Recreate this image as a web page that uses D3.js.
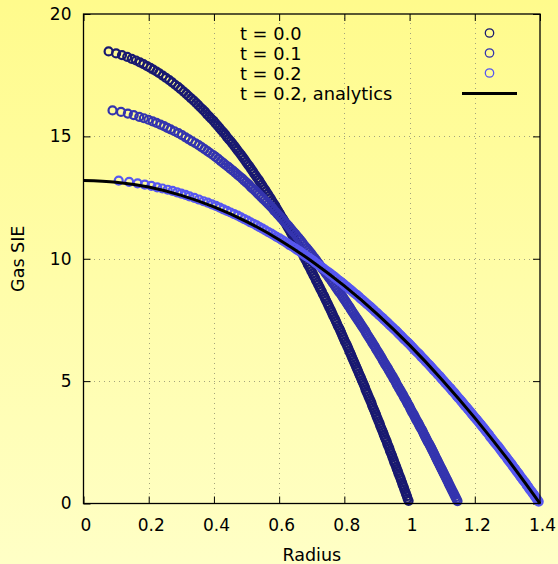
<!DOCTYPE html>
<html>
<head>
<meta charset="utf-8">
<script src="https://cdn.jsdelivr.net/npm/d3@7"></script>
<style>
  html, body { margin: 0; padding: 0; }
  body { width: 558px; height: 564px; overflow: hidden; }
  text { font-family: "DejaVu Sans", sans-serif; fill: #000; }
</style>
</head>
<body>
<script>
'use strict';

// radius / specific internal energy of each shell
const radiusT0 = [0.077,0.100,0.118,0.134,0.148,0.161,0.173,0.184,0.195,0.205,0.214,0.224,
  0.232,0.243,0.253,0.263,0.272,0.281,0.290,0.298,0.307,0.315,
  0.322,0.330,0.338,0.345,0.352,0.359,0.366,0.373,0.379,0.386,
  0.392,0.399,0.405,0.411,0.417,0.423,0.429,0.435,0.440,0.446,
  0.452,0.457,0.463,0.468,0.473,0.479,0.484,0.489,0.494,0.499,
  0.504,0.509,0.514,0.519,0.523,0.528,0.533,0.538,0.542,0.547,
  0.551,0.556,0.560,0.565,0.569,0.574,0.578,0.582,0.587,0.591,
  0.595,0.599,0.603,0.607,0.612,0.616,0.620,0.624,0.628,0.632,
  0.636,0.640,0.643,0.647,0.651,0.655,0.659,0.663,0.666,0.670,
  0.674,0.678,0.681,0.685,0.688,0.692,0.696,0.699,0.703,0.706,
  0.710,0.713,0.717,0.720,0.724,0.727,0.731,0.734,0.738,0.741,
  0.744,0.748,0.751,0.754,0.758,0.761,0.764,0.767,0.771,0.774,
  0.777,0.780,0.784,0.787,0.790,0.793,0.796,0.799,0.802,0.806,
  0.809,0.812,0.815,0.818,0.821,0.824,0.827,0.830,0.833,0.836,
  0.839,0.842,0.845,0.848,0.851,0.854,0.857,0.860,0.863,0.865,
  0.868,0.871,0.874,0.877,0.880,0.883,0.885,0.888,0.891,0.894,
  0.897,0.899,0.902,0.905,0.908,0.910,0.913,0.916,0.919,0.921,
  0.924,0.927,0.930,0.932,0.935,0.938,0.940,0.943,0.946,0.948,
  0.951,0.953,0.956,0.959,0.961,0.964,0.966,0.969,0.972,0.974,
  0.977,0.979,0.982,0.984,0.987,0.989,0.992,0.994,0.997];
const sieT0 = [18.47,18.39,18.32,18.25,18.17,18.10,18.02,17.95,17.87,17.80,17.73,17.65,
  17.58,17.48,17.39,17.30,17.21,17.11,17.02,16.93,16.83,16.74,
  16.65,16.55,16.46,16.37,16.28,16.18,16.09,16.00,15.90,15.81,
  15.72,15.63,15.53,15.44,15.35,15.25,15.16,15.07,14.97,14.88,
  14.79,14.70,14.60,14.51,14.42,14.32,14.23,14.14,14.05,13.95,
  13.86,13.77,13.67,13.58,13.49,13.40,13.30,13.21,13.12,13.02,
  12.93,12.84,12.75,12.65,12.56,12.47,12.37,12.28,12.19,12.09,
  12.00,11.91,11.82,11.72,11.63,11.54,11.44,11.35,11.26,11.17,
  11.07,10.98,10.89,10.79,10.70,10.61,10.52,10.42,10.33,10.24,
  10.14,10.05,9.96,9.87,9.77,9.68,9.59,9.49,9.40,9.31,
  9.22,9.12,9.03,8.94,8.84,8.75,8.66,8.56,8.47,8.38,
  8.29,8.19,8.10,8.01,7.91,7.82,7.73,7.64,7.54,7.45,
  7.36,7.26,7.17,7.08,6.99,6.89,6.80,6.71,6.61,6.52,
  6.43,6.34,6.24,6.15,6.06,5.96,5.87,5.78,5.69,5.59,
  5.50,5.41,5.31,5.22,5.13,5.03,4.94,4.85,4.76,4.66,
  4.57,4.48,4.38,4.29,4.20,4.11,4.01,3.92,3.83,3.73,
  3.64,3.55,3.46,3.36,3.27,3.18,3.08,2.99,2.90,2.81,
  2.71,2.62,2.53,2.43,2.34,2.25,2.15,2.06,1.97,1.88,
  1.78,1.69,1.60,1.50,1.41,1.32,1.23,1.13,1.04,0.95,
  0.85,0.76,0.67,0.58,0.48,0.39,0.30,0.20,0.11];

const radiusT1 = [0.089,0.115,0.136,0.154,0.171,0.185,0.199,0.212,0.224,0.236,0.247,0.257,
  0.267,0.279,0.291,0.302,0.313,0.323,0.333,0.343,0.353,0.362,
  0.371,0.380,0.388,0.397,0.405,0.413,0.421,0.429,0.436,0.444,
  0.451,0.459,0.466,0.473,0.480,0.487,0.493,0.500,0.507,0.513,
  0.519,0.526,0.532,0.538,0.544,0.550,0.556,0.562,0.568,0.574,
  0.580,0.585,0.591,0.596,0.602,0.607,0.613,0.618,0.624,0.629,
  0.634,0.639,0.644,0.650,0.655,0.660,0.665,0.670,0.674,0.679,
  0.684,0.689,0.694,0.699,0.703,0.708,0.713,0.717,0.722,0.726,
  0.731,0.735,0.740,0.744,0.749,0.753,0.758,0.762,0.766,0.771,
  0.775,0.779,0.783,0.788,0.792,0.796,0.800,0.804,0.808,0.812,
  0.816,0.820,0.824,0.828,0.832,0.836,0.840,0.844,0.848,0.852,
  0.856,0.860,0.864,0.867,0.871,0.875,0.879,0.883,0.886,0.890,
  0.894,0.897,0.901,0.905,0.908,0.912,0.916,0.919,0.923,0.926,
  0.930,0.934,0.937,0.941,0.944,0.948,0.951,0.955,0.958,0.961,
  0.965,0.968,0.972,0.975,0.979,0.982,0.985,0.989,0.992,0.995,
  0.999,1.002,1.005,1.008,1.012,1.015,1.018,1.021,1.025,1.028,
  1.031,1.034,1.038,1.041,1.044,1.047,1.050,1.053,1.056,1.060,
  1.063,1.066,1.069,1.072,1.075,1.078,1.081,1.084,1.087,1.090,
  1.093,1.096,1.099,1.102,1.105,1.108,1.111,1.114,1.117,1.120,
  1.123,1.126,1.129,1.132,1.135,1.138,1.141,1.144,1.147];
const sieT1 = [16.06,16.00,15.93,15.87,15.80,15.74,15.68,15.61,15.55,15.48,15.42,15.35,
  15.29,15.21,15.13,15.05,14.96,14.88,14.80,14.72,14.64,14.56,
  14.48,14.40,14.32,14.24,14.16,14.08,13.99,13.91,13.83,13.75,
  13.67,13.59,13.51,13.43,13.35,13.27,13.19,13.11,13.03,12.94,
  12.86,12.78,12.70,12.62,12.54,12.46,12.38,12.30,12.22,12.14,
  12.06,11.97,11.89,11.81,11.73,11.65,11.57,11.49,11.41,11.33,
  11.25,11.17,11.09,11.01,10.92,10.84,10.76,10.68,10.60,10.52,
  10.44,10.36,10.28,10.20,10.12,10.04,9.95,9.87,9.79,9.71,
  9.63,9.55,9.47,9.39,9.31,9.23,9.15,9.07,8.99,8.90,
  8.82,8.74,8.66,8.58,8.50,8.42,8.34,8.26,8.18,8.10,
  8.02,7.93,7.85,7.77,7.69,7.61,7.53,7.45,7.37,7.29,
  7.21,7.13,7.05,6.97,6.88,6.80,6.72,6.64,6.56,6.48,
  6.40,6.32,6.24,6.16,6.08,6.00,5.91,5.83,5.75,5.67,
  5.59,5.51,5.43,5.35,5.27,5.19,5.11,5.03,4.95,4.86,
  4.78,4.70,4.62,4.54,4.46,4.38,4.30,4.22,4.14,4.06,
  3.98,3.89,3.81,3.73,3.65,3.57,3.49,3.41,3.33,3.25,
  3.17,3.09,3.01,2.93,2.84,2.76,2.68,2.60,2.52,2.44,
  2.36,2.28,2.20,2.12,2.04,1.96,1.87,1.79,1.71,1.63,
  1.55,1.47,1.39,1.31,1.23,1.15,1.07,0.99,0.91,0.82,
  0.74,0.66,0.58,0.50,0.42,0.34,0.26,0.18,0.10];

const radiusT2 = [0.108,0.140,0.166,0.188,0.208,0.226,0.242,0.258,0.273,0.287,0.300,0.313,
  0.325,0.340,0.354,0.368,0.381,0.394,0.406,0.418,0.429,0.440,
  0.451,0.462,0.473,0.483,0.493,0.503,0.512,0.522,0.531,0.540,
  0.549,0.558,0.567,0.576,0.584,0.592,0.601,0.609,0.617,0.625,
  0.632,0.640,0.648,0.655,0.663,0.670,0.677,0.684,0.692,0.699,
  0.706,0.712,0.719,0.726,0.733,0.739,0.746,0.753,0.759,0.766,
  0.772,0.778,0.785,0.791,0.797,0.803,0.809,0.815,0.821,0.827,
  0.833,0.839,0.845,0.850,0.856,0.862,0.868,0.873,0.879,0.884,
  0.890,0.895,0.901,0.906,0.912,0.917,0.922,0.928,0.933,0.938,
  0.943,0.949,0.954,0.959,0.964,0.969,0.974,0.979,0.984,0.989,
  0.994,0.999,1.004,1.009,1.013,1.018,1.023,1.028,1.033,1.037,
  1.042,1.047,1.051,1.056,1.061,1.065,1.070,1.074,1.079,1.084,
  1.088,1.093,1.097,1.101,1.106,1.110,1.115,1.119,1.124,1.128,
  1.132,1.137,1.141,1.145,1.149,1.154,1.158,1.162,1.166,1.170,
  1.175,1.179,1.183,1.187,1.191,1.195,1.199,1.204,1.208,1.212,
  1.216,1.220,1.224,1.228,1.232,1.236,1.240,1.244,1.247,1.251,
  1.255,1.259,1.263,1.267,1.271,1.275,1.279,1.282,1.286,1.290,
  1.294,1.298,1.301,1.305,1.309,1.313,1.316,1.320,1.324,1.327,
  1.331,1.335,1.338,1.342,1.346,1.349,1.353,1.357,1.360,1.364,
  1.367,1.371,1.375,1.378,1.382,1.385,1.389,1.392,1.396];
const sieT2 = [13.19,13.14,13.08,13.03,12.98,12.92,12.87,12.82,12.77,12.71,12.66,12.61,
  12.55,12.49,12.42,12.35,12.29,12.22,12.16,12.09,12.02,11.96,
  11.89,11.82,11.76,11.69,11.62,11.56,11.49,11.43,11.36,11.29,
  11.23,11.16,11.09,11.03,10.96,10.89,10.83,10.76,10.70,10.63,
  10.56,10.50,10.43,10.36,10.30,10.23,10.16,10.10,10.03,9.97,
  9.90,9.83,9.77,9.70,9.63,9.57,9.50,9.43,9.37,9.30,
  9.24,9.17,9.10,9.04,8.97,8.90,8.84,8.77,8.71,8.64,
  8.57,8.51,8.44,8.37,8.31,8.24,8.17,8.11,8.04,7.98,
  7.91,7.84,7.78,7.71,7.64,7.58,7.51,7.44,7.38,7.31,
  7.25,7.18,7.11,7.05,6.98,6.91,6.85,6.78,6.71,6.65,
  6.58,6.52,6.45,6.38,6.32,6.25,6.18,6.12,6.05,5.98,
  5.92,5.85,5.79,5.72,5.65,5.59,5.52,5.45,5.39,5.32,
  5.25,5.19,5.12,5.06,4.99,4.92,4.86,4.79,4.72,4.66,
  4.59,4.53,4.46,4.39,4.33,4.26,4.19,4.13,4.06,3.99,
  3.93,3.86,3.80,3.73,3.66,3.60,3.53,3.46,3.40,3.33,
  3.26,3.20,3.13,3.07,3.00,2.93,2.87,2.80,2.73,2.67,
  2.60,2.53,2.47,2.40,2.34,2.27,2.20,2.14,2.07,2.00,
  1.94,1.87,1.80,1.74,1.67,1.61,1.54,1.47,1.41,1.34,
  1.27,1.21,1.14,1.07,1.01,0.94,0.88,0.81,0.74,0.68,
  0.61,0.54,0.48,0.41,0.35,0.28,0.21,0.15,0.08];

const radiusAnalytic = [0,0.1,0.2,0.3,0.4,0.5,0.6,0.7,0.8,0.9,1.0,1.1,1.2,1.3,1.4];
const sieAnalytic = [13.20,13.13,12.93,12.59,12.12,11.52,10.78,9.90,8.89,7.75,6.47,5.05,3.50,1.82,0];

const xTicks = [0,0.2,0.4,0.6,0.8,1,1.2,1.4];
const yTicks = [0,5,10,15,20];
const seriesLabels = ['t = 0.0','t = 0.1','t = 0.2','t = 0.2, analytics'];
const seriesColors = ['#191970','#3434ae','#5757f0'];

(function() {

  let width = 558;
  let height = 564;
  let plotLeft = 83.5;
  let plotRight = 540;
  let plotTop = 14;
  let plotBottom = 503.5;
  let svgContainer = "";

  window.onload = function() {
    svgContainer = d3.select('body')
      .append('svg')
      .attr('width', width)
      .attr('height', height);

    drawBackground();
    let map = drawAxes();
    plotData(map);
    makeLegend();
    makeLabels();
  }

  function drawBackground() {
    let grad = svgContainer.append('defs')
      .append('linearGradient')
      .attr('id', 'bg')
      .attr('x1', 0).attr('y1', 0)
      .attr('x2', 0).attr('y2', 1);
    grad.append('stop').attr('offset', '0%').attr('stop-color', '#fffb8c');
    grad.append('stop').attr('offset', '100%').attr('stop-color', '#ffffc6');
    svgContainer.append('rect')
      .attr('width', width)
      .attr('height', height)
      .attr('fill', 'url(#bg)');
  }

  function drawAxes() {
    let xScale = d3.scaleLinear()
      .domain([0, 1.4])
      .range([plotLeft, plotRight]);
    let yScale = d3.scaleLinear()
      .domain([0, 20])
      .range([plotBottom, plotTop]);

    // dotted grid
    let grid = svgContainer.append('g')
      .attr('stroke', '#a3a37c')
      .attr('stroke-width', 1)
      .attr('stroke-dasharray', '1,4')
      .attr('shape-rendering', 'crispEdges');
    grid.selectAll('.gx')
      .data(xTicks.filter(d => d > 0 && d < 1.4))
      .enter()
      .append('line')
      .attr('x1', d => Math.round(xScale(d)) + 0.5)
      .attr('x2', d => Math.round(xScale(d)) + 0.5)
      .attr('y1', plotBottom)
      .attr('y2', plotTop);
    grid.selectAll('.gy')
      .data(yTicks.filter(d => d > 0 && d < 20))
      .enter()
      .append('line')
      .attr('y1', d => Math.round(yScale(d)) + 0.5)
      .attr('y2', d => Math.round(yScale(d)) + 0.5)
      .attr('x1', plotLeft)
      .attr('x2', plotRight);

    let fmt = d => String(d);

    let xAxis = svgContainer.append('g')
      .attr('transform', 'translate(0,' + plotBottom + ')')
      .call(d3.axisBottom(xScale).tickValues(xTicks).tickFormat(fmt)
        .tickSizeInner(-7).tickSizeOuter(0).tickPadding(15.5));
    xAxis.selectAll('text').attr('dx', 2);

    svgContainer.append('g')
      .attr('transform', 'translate(0,' + plotTop + ')')
      .call(d3.axisTop(xScale).tickValues(xTicks).tickFormat('')
        .tickSizeInner(-7).tickSizeOuter(0));

    svgContainer.append('g')
      .attr('transform', 'translate(' + plotLeft + ',0)')
      .call(d3.axisLeft(yScale).tickValues(yTicks).tickFormat(fmt)
        .tickSizeInner(-7).tickSizeOuter(0).tickPadding(12));

    svgContainer.append('g')
      .attr('transform', 'translate(' + plotRight + ',0)')
      .call(d3.axisRight(yScale).tickValues(yTicks).tickFormat('')
        .tickSizeInner(-7).tickSizeOuter(0));

    svgContainer.selectAll('.tick text')
      .style('font-family', '"DejaVu Sans", sans-serif')
      .style('font-size', '17px')
      .attr('fill', '#000');
    svgContainer.selectAll('.tick line').attr('stroke', '#000');
    svgContainer.selectAll('.domain').remove();

    return {
      xScale: xScale,
      yScale: yScale
    };
  }

  function plotData(map) {
    let xMap = map.xScale;
    let yMap = map.yScale;

    let series = [
      radiusT0.map((r, i) => ({ r: r, e: sieT0[i] })),
      radiusT1.map((r, i) => ({ r: r, e: sieT1[i] })),
      radiusT2.map((r, i) => ({ r: r, e: sieT2[i] }))
    ];

    series.forEach(function(pts, s) {
      svgContainer.append('g')
        .selectAll('circle')
        .data(pts)
        .enter()
        .append('circle')
        .attr('cx', d => xMap(d.r))
        .attr('cy', d => yMap(d.e))
        .attr('r', 4.0)
        .attr('fill', 'none')
        .attr('stroke', seriesColors[s])
        .attr('stroke-width', 2.2);
    });

    let analytic = radiusAnalytic.map((r, i) => ({ r: r, e: sieAnalytic[i] }));
    let line = d3.line()
      .x(d => xMap(d.r))
      .y(d => yMap(d.e))
      .curve(d3.curveMonotoneX);
    svgContainer.append('path')
      .datum(analytic)
      .attr('d', line)
      .attr('fill', 'none')
      .attr('stroke', '#000')
      .attr('stroke-width', 3);

    // plot border on top
    svgContainer.append('rect')
      .attr('x', plotLeft)
      .attr('y', plotTop)
      .attr('width', plotRight - plotLeft)
      .attr('height', plotBottom - plotTop)
      .attr('fill', 'none')
      .attr('stroke', '#000')
      .attr('stroke-width', 1.3);
  }

  function makeLegend() {
    let g = svgContainer.append('g');
    seriesLabels.forEach(function(label, i) {
      g.append('text')
        .attr('x', 240)
        .attr('y', 39.5 + i * 20)
        .style('font-size', '17.8px')
        .text(label);
    });
    seriesColors.forEach(function(c, i) {
      g.append('circle')
        .attr('cx', 489.5)
        .attr('cy', 33 + i * 20)
        .attr('r', 4.2)
        .attr('fill', 'none')
        .attr('stroke', c)
        .attr('stroke-width', 1.3);
    });
    g.append('line')
      .attr('x1', 462)
      .attr('x2', 517)
      .attr('y1', 93.5)
      .attr('y2', 93.5)
      .attr('stroke', '#000')
      .attr('stroke-width', 3);
  }

  function makeLabels() {
    svgContainer.append('text')
      .attr('x', (plotLeft + plotRight) / 2)
      .attr('y', 561)
      .attr('text-anchor', 'middle')
      .style('font-size', '17.5px')
      .text('Radius');

    svgContainer.append('text')
      .attr('transform', 'translate(23.5,' + ((plotTop + plotBottom) / 2) + ')rotate(-90)')
      .attr('text-anchor', 'middle')
      .style('font-size', '17.5px')
      .text('Gas SIE');
  }

})();
</script>
</body>
</html>
